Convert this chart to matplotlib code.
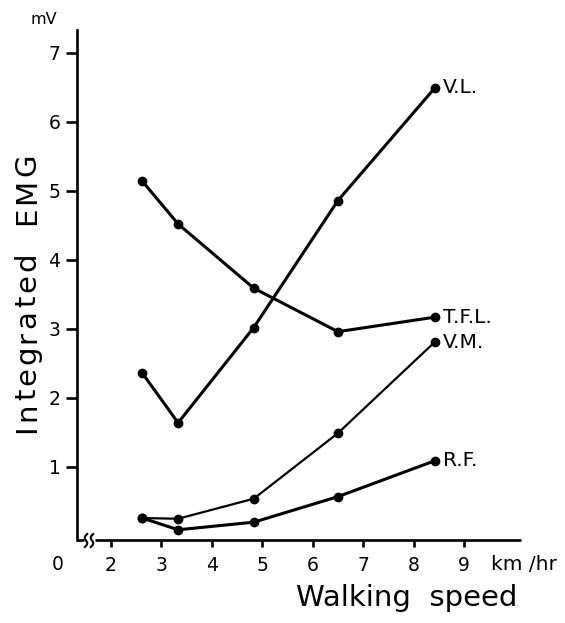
import matplotlib
matplotlib.use("Agg")
import numpy as np
import matplotlib.pyplot as plt
from matplotlib.font_manager import FontProperties

# ---- data ----
speed = [2.62, 3.33, 4.83, 6.50, 8.42]
vl = [2.36, 1.64, 3.02, 4.86, 6.49]
tfl = [5.14, 4.52, 3.59, 2.96, 3.17]
vm = [0.26, 0.25, 0.54, 1.49, 2.81]
rf = [0.26, 0.09, 0.20, 0.57, 1.09]
series_names = ["V.L.", "T.F.L.", "V.M.", "R.F."]
x_ticks = [2, 3, 4, 5, 6, 7, 8, 9]
y_ticks = [1, 2, 3, 4, 5, 6, 7]

FONT = ["DejaVu Sans"]
plt.rcParams['font.family'] = FONT

W, H = 565, 623
fig = plt.figure(figsize=(W / 100, H / 100), dpi=100)
renderer = fig.canvas.get_renderer()


def tracked_text(x_px, y_px, s, size, total_len, rotation=0):
    """Draw text with letter spacing so that it spans total_len pixels.
    x_px, y_px: start of the baseline in image pixels (y from top)."""
    prop = FontProperties(family=FONT, size=size)
    wbar, _, _ = renderer.get_text_width_height_descent("|", prop, ismath=False)
    widths = [0.0]
    for i in range(1, len(s) + 1):
        w, _, _ = renderer.get_text_width_height_descent(s[:i] + "|", prop, ismath=False)
        widths.append(w - wbar)
    natural = widths[-1]
    track = (total_len - natural) / max(len(s) - 1, 1)
    for i, ch in enumerate(s):
        off = widths[i] + i * track
        if rotation == 90:
            xd, yd = x_px, (H - y_px) + off
        else:
            xd, yd = x_px + off, H - y_px
        fig.text(xd / W, yd / H, ch, fontproperties=prop, rotation=rotation,
                 rotation_mode="anchor", ha="left", va="baseline")


ax = fig.add_axes([77 / W, 1 - 540 / H, (521 - 77) / W, (540 - 30) / H])
ax.set_xlim(1.325, 10.13)
ax.set_ylim(-0.058, 7.33)

for s in ["top", "right", "bottom"]:
    ax.spines[s].set_visible(False)
ax.spines["left"].set_linewidth(1.9)

lw = {"V.L.": 2.2, "T.F.L.": 2.2, "V.M.": 1.6, "R.F.": 2.2}
data = {"V.L.": vl, "T.F.L.": tfl, "V.M.": vm, "R.F.": rf}
for name in series_names:
    ax.plot(speed, data[name], color="black", lw=lw[name], marker="o",
            markersize=6, solid_capstyle="round", clip_on=False, zorder=3)
    ax.annotate(name, (speed[-1], data[name][-1]), xytext=(6, 0),
                textcoords="offset points", fontsize=14.5, ha="left",
                va="center")

ax.set_xticks(x_ticks)
ax.set_xticklabels([str(t) for t in x_ticks])
ax.set_yticks(y_ticks)
ax.set_yticklabels([str(t) for t in y_ticks])
ax.tick_params(axis="both", direction="out", width=1.9, labelsize=13.5,
               color="black")
ax.tick_params(axis="x", length=5, pad=6.5)
ax.tick_params(axis="y", length=7.9, pad=4)

# bottom axis with wavy break marks
ta = ax.transAxes
axw, axh = 521 - 77, 540 - 30
ax.plot([0, 7 / axw], [0, 0], color="black", lw=1.9, transform=ta,
        clip_on=False, solid_capstyle="butt")
ax.plot([18 / axw, 1], [0, 0], color="black", lw=1.9, transform=ta,
        clip_on=False, solid_capstyle="butt")
t = np.linspace(0, 2 * np.pi, 30)
for c in (9.0, 15.0):
    xs = (c + 1.8 * np.sin(t) + np.linspace(-1.2, 1.2, 30)) / axw
    ys = np.linspace(-7, 6, 30) / axh
    ax.plot(xs, ys, color="black", lw=1.5, transform=ta, clip_on=False)

fig.text(58 / W, 1 - 564 / H, "0", fontsize=13.5, ha="center", va="center")
fig.text(491 / W, 1 - 564 / H, "km /hr", fontsize=14.5, ha="left", va="center")
fig.text(30 / W, 1 - 19 / H, "mV", fontsize=11.5, ha="left", va="center")

# y label, reading bottom to top
tracked_text(35, 433, "Integrated  EMG", 21, 280, rotation=90)
fig.text(0.72, 0.040, "Walking  speed", fontsize=21, ha="center",
         va="center")

fig.savefig("out.png", dpi=100)
